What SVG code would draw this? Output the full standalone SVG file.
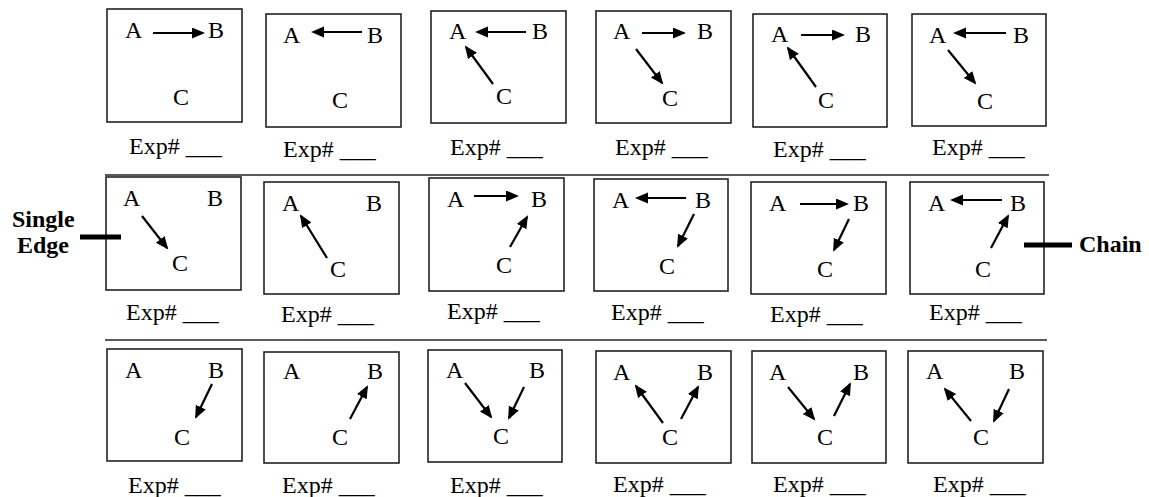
<svg xmlns="http://www.w3.org/2000/svg" width="1149" height="497" viewBox="0 0 1149 497">
<style>
.bx{fill:#fff;stroke:#222;stroke-width:1.6}
.t{font-family:'Liberation Serif','DejaVu Serif',serif;font-size:24px;fill:#000}
.b{font-family:'Liberation Serif','DejaVu Serif',serif;font-size:24px;font-weight:bold;fill:#000}
.ar{stroke:#000;stroke-width:2.2;fill:none;marker-end:url(#ah)}
.sep{stroke:#222;stroke-width:1.6}
.bar{stroke:#000;stroke-width:5}
</style>
<defs>
<marker id="ah" markerUnits="userSpaceOnUse" markerWidth="14" markerHeight="12" refX="11" refY="5.5" orient="auto"><path d="M0,0 L13,5.5 L0,11 Z" fill="#000"/></marker>
</defs>
<rect width="1149" height="497" fill="#fff"/>
<g id="separators">
<line class="sep" x1="105" y1="175" x2="1049" y2="175"/>
<line class="sep" x1="105" y1="340" x2="1047" y2="340"/>
</g>
<g id="r1c1"><rect class="bx" x="107" y="9" width="135" height="113"/><text class="t" x="125" y="38">A</text><text class="t" x="208" y="38">B</text><text class="t" x="173" y="105">C</text><text class="t" x="129" y="154">Exp# ___</text></g>
<g id="r1c2"><rect class="bx" x="266" y="14" width="135" height="113"/><text class="t" x="283" y="43">A</text><text class="t" x="367" y="43">B</text><text class="t" x="332" y="108">C</text><text class="t" x="283" y="157">Exp# ___</text></g>
<g id="r1c3"><rect class="bx" x="431" y="11" width="135" height="112"/><text class="t" x="449" y="39">A</text><text class="t" x="532" y="39">B</text><text class="t" x="496" y="104">C</text><text class="t" x="450" y="155">Exp# ___</text></g>
<g id="r1c4"><rect class="bx" x="596" y="11" width="135" height="112"/><text class="t" x="613" y="39">A</text><text class="t" x="697" y="39">B</text><text class="t" x="662" y="106">C</text><text class="t" x="615" y="155">Exp# ___</text></g>
<g id="r1c5"><rect class="bx" x="753" y="14" width="134" height="113"/><text class="t" x="771" y="42">A</text><text class="t" x="855" y="42">B</text><text class="t" x="818" y="108">C</text><text class="t" x="773" y="157">Exp# ___</text></g>
<g id="r1c6"><rect class="bx" x="912" y="14" width="134" height="112"/><text class="t" x="929" y="43">A</text><text class="t" x="1013" y="43">B</text><text class="t" x="977" y="109">C</text><text class="t" x="932" y="155">Exp# ___</text></g>
<g id="r2c1"><rect class="bx" x="106" y="177" width="135" height="113"/><text class="t" x="123" y="206">A</text><text class="t" x="207" y="206">B</text><text class="t" x="172" y="271">C</text><text class="t" x="126" y="320">Exp# ___</text></g>
<g id="r2c2"><rect class="bx" x="264" y="182" width="135" height="112"/><text class="t" x="282" y="211">A</text><text class="t" x="366" y="211">B</text><text class="t" x="330" y="277">C</text><text class="t" x="281" y="322">Exp# ___</text></g>
<g id="r2c3"><rect class="bx" x="429" y="178" width="135" height="113"/><text class="t" x="447" y="207">A</text><text class="t" x="531" y="207">B</text><text class="t" x="496" y="273">C</text><text class="t" x="447" y="319">Exp# ___</text></g>
<g id="r2c4"><rect class="bx" x="594" y="179" width="134" height="112"/><text class="t" x="612" y="208">A</text><text class="t" x="695" y="208">B</text><text class="t" x="659" y="274">C</text><text class="t" x="611" y="320">Exp# ___</text></g>
<g id="r2c5"><rect class="bx" x="751" y="182" width="135" height="112"/><text class="t" x="769" y="211">A</text><text class="t" x="853" y="211">B</text><text class="t" x="817" y="277">C</text><text class="t" x="770" y="322">Exp# ___</text></g>
<g id="r2c6"><rect class="bx" x="910" y="182" width="134" height="112"/><text class="t" x="928" y="211">A</text><text class="t" x="1010" y="211">B</text><text class="t" x="975" y="277">C</text><text class="t" x="929" y="320">Exp# ___</text></g>
<g id="r3c1"><rect class="bx" x="107" y="349" width="135" height="112"/><text class="t" x="125" y="378">A</text><text class="t" x="208" y="378">B</text><text class="t" x="174" y="445">C</text><text class="t" x="128" y="493">Exp# ___</text></g>
<g id="r3c2"><rect class="bx" x="264" y="352" width="135" height="111"/><text class="t" x="283" y="379">A</text><text class="t" x="367" y="379">B</text><text class="t" x="332" y="445">C</text><text class="t" x="282" y="493">Exp# ___</text></g>
<g id="r3c3"><rect class="bx" x="428" y="350" width="134" height="112"/><text class="t" x="446" y="378">A</text><text class="t" x="529" y="378">B</text><text class="t" x="493" y="444">C</text><text class="t" x="450" y="493">Exp# ___</text></g>
<g id="r3c4"><rect class="bx" x="596" y="351" width="135" height="112"/><text class="t" x="613" y="380">A</text><text class="t" x="697" y="380">B</text><text class="t" x="662" y="445">C</text><text class="t" x="613" y="492">Exp# ___</text></g>
<g id="r3c5"><rect class="bx" x="752" y="351" width="134" height="112"/><text class="t" x="769" y="380">A</text><text class="t" x="853" y="380">B</text><text class="t" x="817" y="445">C</text><text class="t" x="773" y="492">Exp# ___</text></g>
<g id="r3c6"><rect class="bx" x="908" y="351" width="135" height="112"/><text class="t" x="926" y="379">A</text><text class="t" x="1009" y="379">B</text><text class="t" x="973" y="445">C</text><text class="t" x="933" y="492">Exp# ___</text></g>
<g id="label-single-edge"><text class="b" x="12" y="227">Single</text><text class="b" x="17" y="253">Edge</text><line class="bar" x1="80" y1="237" x2="121" y2="237"/></g>
<g id="label-chain"><text class="b" x="1079" y="252">Chain</text><line class="bar" x1="1024" y1="245" x2="1072" y2="245"/></g>
<g id="connectors">
<line class="ar" x1="153" y1="33" x2="203" y2="33"/>
<line class="ar" x1="362" y1="32" x2="313" y2="32"/>
<line class="ar" x1="526" y1="32" x2="477" y2="32"/>
<line class="ar" x1="493" y1="84" x2="466" y2="47"/>
<line class="ar" x1="642" y1="33" x2="684" y2="33"/>
<line class="ar" x1="636" y1="49" x2="662" y2="83"/>
<line class="ar" x1="801" y1="35" x2="843" y2="35"/>
<line class="ar" x1="816" y1="87" x2="788" y2="48"/>
<line class="ar" x1="1006" y1="33" x2="955" y2="33"/>
<line class="ar" x1="948" y1="50" x2="975" y2="83"/>
<line class="ar" x1="142" y1="216" x2="167" y2="248"/>
<line class="ar" x1="327" y1="258" x2="301" y2="216"/>
<line class="ar" x1="474" y1="196" x2="517" y2="196"/>
<line class="ar" x1="510" y1="247" x2="527" y2="217"/>
<line class="ar" x1="686" y1="198" x2="637" y2="198"/>
<line class="ar" x1="694" y1="214" x2="678" y2="246"/>
<line class="ar" x1="800" y1="204" x2="847" y2="204"/>
<line class="ar" x1="849" y1="219" x2="834" y2="250"/>
<line class="ar" x1="1002" y1="200" x2="952" y2="200"/>
<line class="ar" x1="991" y1="248" x2="1008" y2="216"/>
<line class="ar" x1="212" y1="384" x2="196" y2="417"/>
<line class="ar" x1="350" y1="419" x2="367" y2="387"/>
<line class="ar" x1="465" y1="383" x2="491" y2="417"/>
<line class="ar" x1="524" y1="387" x2="509" y2="418"/>
<line class="ar" x1="663" y1="423" x2="636" y2="386"/>
<line class="ar" x1="681" y1="419" x2="698" y2="387"/>
<line class="ar" x1="788" y1="387" x2="814" y2="419"/>
<line class="ar" x1="834" y1="416" x2="850" y2="384"/>
<line class="ar" x1="971" y1="421" x2="945" y2="389"/>
<line class="ar" x1="1009" y1="389" x2="994" y2="421"/>
</g>
</svg>
